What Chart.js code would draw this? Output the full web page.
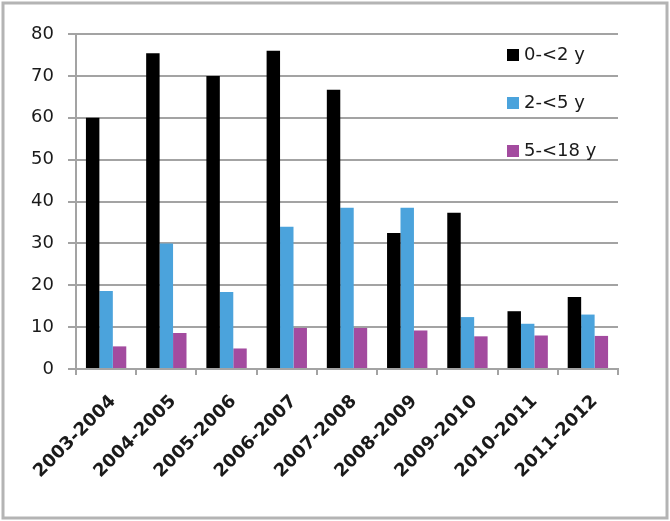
<!DOCTYPE html>
<html>
<head>
<meta charset="utf-8">
<script src="https://cdn.jsdelivr.net/npm/chart.js@4"></script>
<style>
  html, body { margin: 0; padding: 0; background: #fff; }
  #wrap { width: 670px; height: 521px; }
</style>
</head>
<body>
<div id="wrap"><canvas id="chart" width="670" height="521"></canvas></div>
<script>
const seasons = ['2003-2004', '2004-2005', '2005-2006', '2006-2007', '2007-2008',
                 '2008-2009', '2009-2010', '2010-2011', '2011-2012'];
const under2 = [60, 75.4, 70, 76, 66.7, 32.5, 37.3, 13.8, 17.2];
const from2to5 = [18.6, 30, 18.4, 34, 38.5, 38.5, 12.4, 10.8, 13];
const from5to18 = [5.4, 8.6, 4.9, 9.8, 9.8, 9.2, 7.8, 8, 7.9];
const seriesNames = ['0-<2 y', '2-<5 y', '5-<18 y'];
const seriesColors = ['#000000', '#4ba3dc', '#a34b9f'];
const yMax = 80;
const yStep = 10;

const gridGray = '#a3a3a3';
const textColor = '#1a1a1a';

// outer frame + white background
const framePlugin = {
    id: 'frame',
    beforeDraw(chart) {
        const ctx = chart.ctx;
        ctx.save();
        ctx.fillStyle = '#fff';
        ctx.fillRect(0, 0, chart.width, chart.height);
        ctx.strokeStyle = '#b4b4b4';
        ctx.lineWidth = 3;
        ctx.strokeRect(3, 3, chart.width - 6, chart.height - 6);
        ctx.restore();
    }
};

// legend drawn inside the plot, top right, one item per row
const insideLegend = {
    id: 'insideLegend',
    afterDraw(chart) {
        const ctx = chart.ctx;
        const area = chart.chartArea;
        const x = area.right - 111;
        ctx.save();
        ctx.font = '18px "DejaVu Sans", sans-serif';
        ctx.textBaseline = 'middle';
        chart.data.datasets.forEach((ds, i) => {
            const y = area.top + 21 + i * 48;
            ctx.fillStyle = ds.backgroundColor;
            ctx.fillRect(x, y - 6, 12, 12);
            ctx.fillStyle = textColor;
            ctx.fillText(ds.label, x + 17, y);
        });
        ctx.restore();
    }
};

const values = [under2, from2to5, from5to18];

new Chart(document.getElementById('chart').getContext('2d'), {
    type: 'bar',
    data: {
        labels: seasons,
        datasets: values.map((v, i) => ({
            label: seriesNames[i],
            data: v,
            backgroundColor: seriesColors[i],
            borderWidth: 0,
            categoryPercentage: 0.67,
            barPercentage: 1
        }))
    },
    options: {
        responsive: false,
        animation: false,
        layout: { padding: { top: 34, right: 52, left: 0, bottom: 0 } },
        plugins: {
            legend: { display: false },
            tooltip: { enabled: false }
        },
        scales: {
            y: {
                min: 0,
                max: yMax,
                afterFit: (scale) => { scale.width = 76; },
                ticks: {
                    stepSize: yStep,
                    color: textColor,
                    padding: 14,
                    font: { family: '"DejaVu Sans", sans-serif', size: 18 }
                },
                grid: { color: gridGray, lineWidth: 2, tickLength: 8 },
                border: { color: gridGray, width: 2 }
            },
            x: {
                afterFit: (scale) => { scale.height = 152; },
                ticks: {
                    color: textColor,
                    maxRotation: 45,
                    minRotation: 45,
                    padding: 16,
                    labelOffset: 7,
                    font: { family: '"DejaVu Sans", sans-serif', size: 18, weight: 'bold' }
                },
                grid: { offset: true, drawOnChartArea: false, color: gridGray, lineWidth: 2, tickLength: 6 },
                border: { color: gridGray, width: 2 }
            }
        }
    },
    plugins: [framePlugin, insideLegend]
});
</script>
</body>
</html>
